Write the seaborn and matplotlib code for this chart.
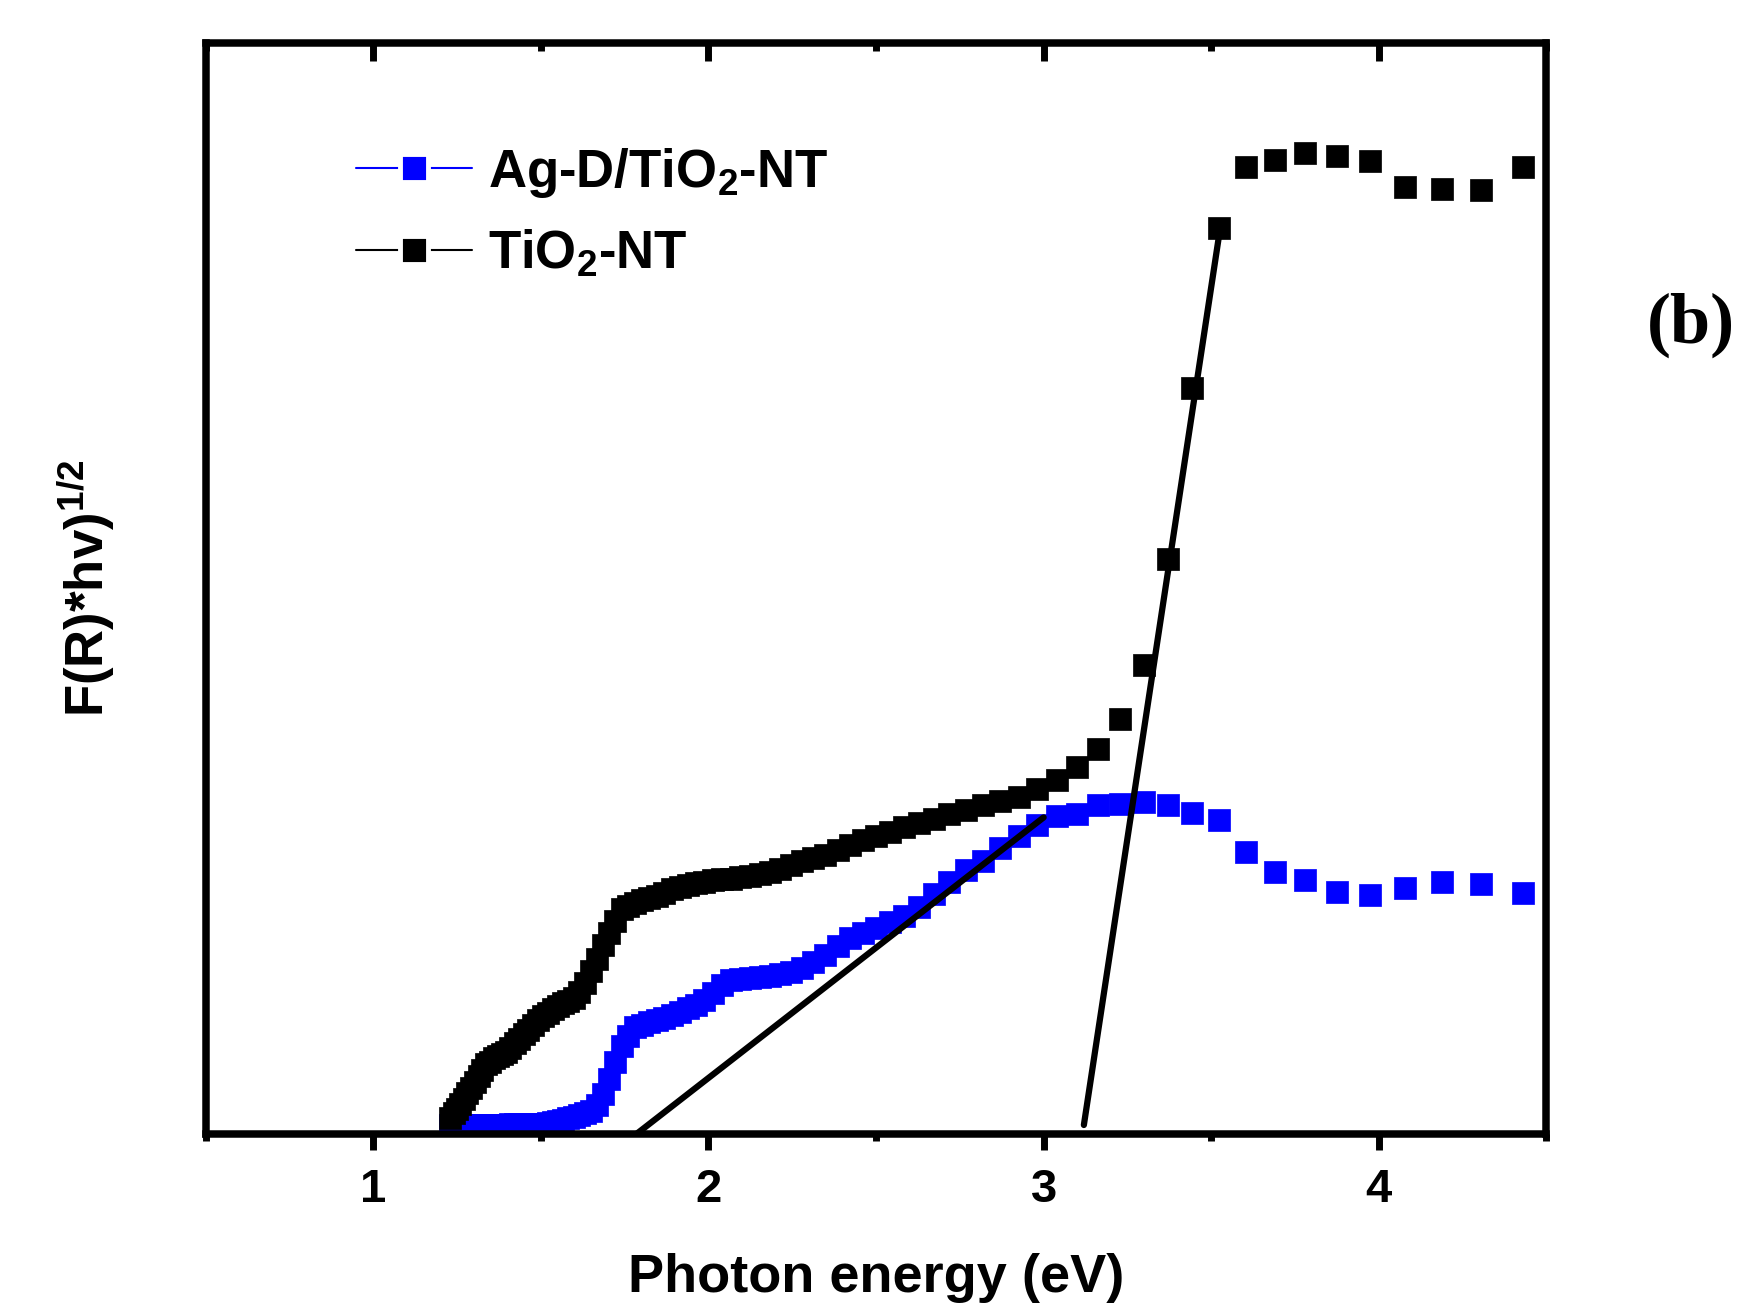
import matplotlib
matplotlib.use("Agg")
import matplotlib.pyplot as plt
from matplotlib.lines import Line2D
import seaborn as sns
import pandas as pd

# Photon energy (eV) of each measured point
energy = [1.230, 1.240, 1.250, 1.260, 1.270, 1.281, 1.292, 1.303, 1.314, 1.325,
          1.336, 1.348, 1.360, 1.372, 1.384, 1.396, 1.409, 1.422, 1.435, 1.449,
          1.462, 1.476, 1.490, 1.505, 1.520, 1.535, 1.550, 1.566, 1.582, 1.598,
          1.615, 1.632, 1.649, 1.667, 1.685, 1.703, 1.722, 1.742, 1.761, 1.782,
          1.802, 1.824, 1.845, 1.867, 1.890, 1.914, 1.938, 1.962, 1.987, 2.013,
          2.039, 2.067, 2.095, 2.123, 2.153, 2.183, 2.214, 2.246, 2.279, 2.313,
          2.348, 2.385, 2.422, 2.460, 2.500, 2.541, 2.583, 2.627, 2.672, 2.719,
          2.768, 2.818, 2.870, 2.925, 2.981, 3.039, 3.100, 3.163, 3.229, 3.298,
          3.370, 3.444, 3.523, 3.605, 3.690, 3.780, 3.875, 3.974, 4.079, 4.189,
          4.306, 4.429]

# TiO2-NT, (F(R)*hv)^1/2 in arbitrary units
tio2_nt = [1.4, 1.9, 2.3, 2.7, 3.2, 3.7, 4.2, 4.7, 5.3, 5.8,
           6.4, 6.6, 6.9, 7.1, 7.3, 7.5, 7.9, 8.3, 8.7, 9.1,
           9.5, 10.0, 10.4, 10.8, 11.1, 11.4, 11.7, 12.0, 12.2, 12.4,
           13.0, 13.8, 14.9, 16.0, 17.3, 18.4, 19.5, 20.6, 20.9, 21.2,
           21.4, 21.6, 21.8, 22.1, 22.4, 22.6, 22.8, 23.0, 23.1, 23.3,
           23.4, 23.4, 23.5, 23.6, 23.8, 24.0, 24.3, 24.6, 25.0, 25.3,
           25.6, 26.0, 26.5, 26.9, 27.3, 27.7, 28.1, 28.5, 28.9, 29.3,
           29.7, 30.1, 30.5, 30.9, 31.6, 32.4, 33.6, 35.3, 38.0, 43.0,
           52.7, 68.4, 83.0, 88.6, 89.3, 89.9, 89.6, 89.2, 86.8, 86.6,
           86.5, 88.6]

# Ag-D/TiO2-NT
ag_tio2_nt = [0.8, 0.8, 0.8, 0.8, 0.8, 0.8, 0.8, 0.8, 0.8, 0.8,
              0.8, 0.8, 0.8, 0.8, 0.8, 0.8, 0.9, 0.9, 0.9, 0.9,
              0.9, 0.9, 0.9, 0.9, 1.0, 1.1, 1.2, 1.3, 1.4, 1.5,
              1.7, 1.9, 2.1, 2.6, 3.6, 5.0, 6.6, 8.0, 9.0, 9.8,
              10.0, 10.2, 10.4, 10.6, 10.9, 11.2, 11.5, 11.8, 12.3, 12.9,
              13.6, 14.1, 14.2, 14.3, 14.4, 14.5, 14.6, 14.8, 15.2, 15.7,
              16.4, 17.2, 17.9, 18.4, 18.9, 19.4, 20.0, 20.8, 22.0, 23.1,
              24.2, 25.0, 26.2, 27.3, 28.3, 29.1, 29.3, 30.1, 30.2, 30.4,
              30.1, 29.4, 28.8, 25.8, 24.0, 23.3, 22.2, 21.9, 22.5, 23.1,
              22.9, 22.1]

# Tauc extrapolation lines (end points)
fit_ag_x = [1.786, 3.0]
fit_ag_y = [0.0, 29.0]
fit_tio2_x = [3.12, 3.525]
fit_tio2_y = [0.8, 82.7]

labels = ["Ag-D/TiO$_2$-NT", "TiO$_2$-NT"]
colors = ["#0000ff", "#000000"]
major_ticks = [1, 2, 3, 4]
minor_ticks = [0.5, 1.5, 2.5, 3.5, 4.5]

sns.set_style("white")
plt.rcParams["font.family"] = ["Liberation Sans", "DejaVu Sans"]
plt.rcParams["font.weight"] = "bold"
plt.rcParams["mathtext.default"] = "regular"
plt.rcParams["text.color"] = "black"
plt.rcParams["axes.labelcolor"] = "black"
plt.rcParams["xtick.color"] = "black"

df = pd.DataFrame({"energy": energy, "tio2": tio2_nt, "ag": ag_tio2_nt})

fig = plt.figure(figsize=(17.46, 13.03), dpi=100)
ax = fig.add_axes([0.1178, 0.1299, 0.7679, 0.8371])

sns.scatterplot(data=df, x="energy", y="ag", marker="s", s=240, color=colors[0],
                edgecolor=colors[0], linewidth=0.5, ax=ax, legend=False, zorder=2)
sns.scatterplot(data=df, x="energy", y="tio2", marker="s", s=240, color=colors[1],
                edgecolor=colors[1], linewidth=0.5, ax=ax, legend=False, zorder=3)
sns.lineplot(x=fit_ag_x, y=fit_ag_y, color="black", lw=4.5, ax=ax, zorder=4)
sns.lineplot(x=fit_tio2_x, y=fit_tio2_y, color="black", lw=4.5, ax=ax, zorder=4)

ax.set_xlim(0.5, 4.5)
ax.set_ylim(0, 100)
ax.set_xticks(major_ticks)
ax.set_xticks(minor_ticks, minor=True)
ax.set_yticks([])
ax.tick_params(axis="x", which="major", direction="out", length=11.5, width=5,
               labelsize=34, pad=13, bottom=True, top=False)
ax.tick_params(axis="x", which="minor", direction="out", length=5, width=5,
               bottom=True, top=False)
for t in ax.get_xticklabels():
    t.set_fontweight("bold")
for s in ax.spines.values():
    s.set_linewidth(5.4)
    s.set_color("black")

# inward ticks on the top spine
top = ax.secondary_xaxis("top")
top.set_xticks(major_ticks)
top.set_xticks(minor_ticks, minor=True)
top.tick_params(axis="x", which="major", direction="in", length=13, width=5,
                labeltop=False, top=True)
top.tick_params(axis="x", which="minor", direction="in", length=6, width=5, top=True)
top.spines["top"].set_visible(False)

ax.set_xlabel("Photon energy (eV)", fontsize=39, fontweight="bold", labelpad=30)
ax.set_ylabel("F(R)*hv)$^{1/2}$", fontsize=38, fontweight="bold")
ax.yaxis.set_label_coords(-0.066, 0.50)

handles = [Line2D([], [], color=c, lw=1.5, marker="s", markersize=20,
                  markerfacecolor=c, markeredgecolor="white", markeredgewidth=3.5)
           for c in colors]
ax.legend(handles, labels, loc="upper left", bbox_to_anchor=(0.112, 0.906),
          frameon=False, prop={"size": 38, "weight": "bold"}, handlelength=2.2,
          handletextpad=0.3, labelspacing=0.55, borderpad=0, borderaxespad=0)

fig.text(0.9686, 0.75, "(b)", fontsize=52, fontweight="bold",
         family=["Liberation Serif", "DejaVu Serif"], ha="center", va="center")

fig.savefig("out.png", dpi=100)
